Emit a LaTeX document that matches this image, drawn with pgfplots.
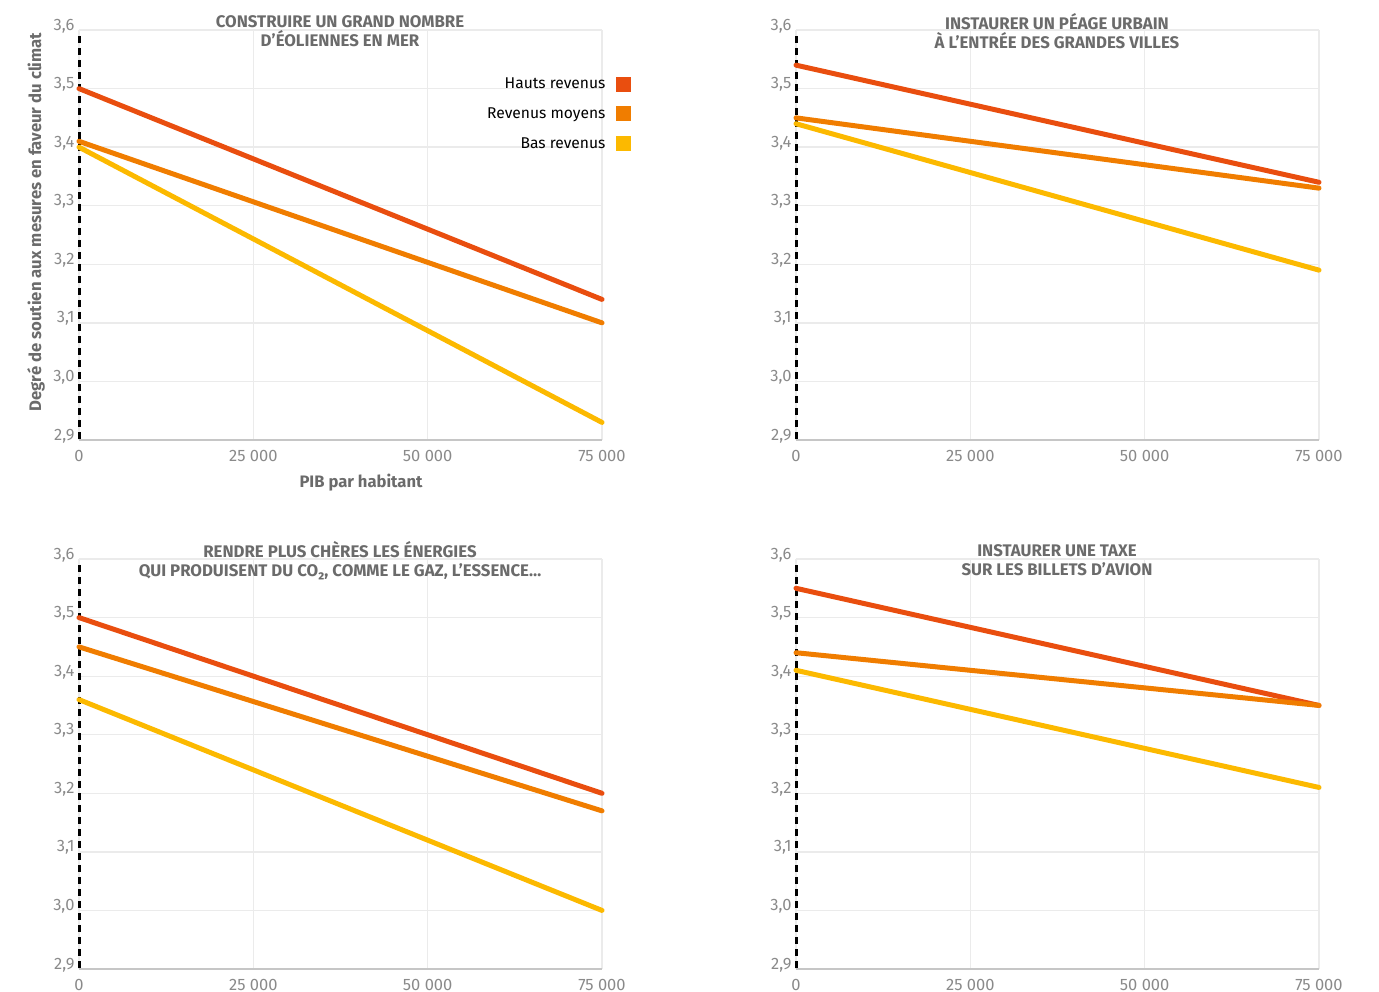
\documentclass[border=0pt]{standalone}
\usepackage{fontspec}
\setmainfont{Fira Sans}
\usepackage{pgfplots}
\pgfplotsset{compat=1.18}
\definecolor{hauts}{HTML}{E94E0F}
\definecolor{moyens}{HTML}{F07D00}
\definecolor{bas}{HTML}{FCB900}
\definecolor{titlegray}{HTML}{6B6B6B}
\definecolor{tickgray}{HTML}{8A8A8A}
\definecolor{gridgray}{HTML}{EBEBEB}
\pgfplotsset{
  panel/.style={
    scale only axis, width=523pt, height=410pt, anchor=south west,
    xmin=0, xmax=75000, ymin=2.9, ymax=3.6,
    xtick={0,25000,50000,75000},
    ytick={2.9,3.0,3.1,3.2,3.3,3.4,3.5,3.6},
    scaled x ticks=false, scaled y ticks=false,
    grid=major, major grid style={gridgray, line width=1.3pt},
    axis line style={draw=none}, major tick length=0pt,
    /pgf/number format/assume math mode=true,
    tick label style={font=\fontsize{16.5}{17}\selectfont, text=tickgray},
    xticklabel style={/pgf/number format/.cd, 1000 sep={\ }, fixed},
    yticklabel style={anchor=base east, xshift=-1pt, /pgf/number format/.cd, use comma, fixed, fixed zerofill, precision=1},
    xticklabel shift=7pt,
    clip=false,
  },
  serie/.style={line width=5pt, line cap=round, #1},
}
\newcommand{\axlines}{%
  \draw[gray!45, line width=1.3pt] (axis cs:0,2.9) -- (axis cs:75000,2.9);
  \draw[black, line width=3pt, dash pattern=on 7pt off 5pt] (axis cs:0,3.59) -- (axis cs:0,2.9);
}
\begin{document}
\begin{tikzpicture}
% Panel 1
\begin{axis}[panel, at={(79pt,-440pt)},
  legend style={at={(1.0545,0.888)}, anchor=north east, draw=none, fill=none,
    font=\fontsize{15.6}{16}\selectfont, text=black, row sep=13.5pt,
    legend cell align=right, inner sep=0pt, outer sep=0pt,
    /tikz/every even column/.append style={column sep=0pt}},
  legend plot pos=right,
  legend image code/.code={\path[draw=none, fill=none] (0pt,0pt) -- (8pt,0pt);\fill[#1, draw=none] (8pt,-7.5pt) rectangle (23pt,7.5pt);},
  ]
\axlines
\addplot[serie=hauts] coordinates {(0,3.50) (75000,3.14)};
\addlegendentry{Hauts revenus}
\addplot[serie=moyens] coordinates {(0,3.41) (75000,3.10)};
\addlegendentry{Revenus moyens}
\addplot[serie=bas] coordinates {(0,3.40) (75000,2.93)};
\addlegendentry{Bas revenus}
\end{axis}
% Panel 2
\begin{axis}[panel, at={(796pt,-440pt)}]
\axlines
\addplot[serie=hauts] coordinates {(0,3.54) (75000,3.34)};
\addplot[serie=moyens] coordinates {(0,3.45) (75000,3.33)};
\addplot[serie=bas] coordinates {(0,3.44) (75000,3.19)};
\end{axis}
% Panel 3
\begin{axis}[panel, at={(79pt,-969pt)}]
\axlines
\addplot[serie=hauts] coordinates {(0,3.50) (75000,3.20)};
\addplot[serie=moyens] coordinates {(0,3.45) (75000,3.17)};
\addplot[serie=bas] coordinates {(0,3.36) (75000,3.00)};
\end{axis}
% Panel 4
\begin{axis}[panel, at={(796pt,-969pt)}]
\axlines
\addplot[serie=hauts] coordinates {(0,3.55) (75000,3.35)};
\addplot[serie=moyens] coordinates {(0,3.44) (75000,3.35)};
\addplot[serie=bas] coordinates {(0,3.41) (75000,3.21)};
\end{axis}
% Titles and labels
\begin{scope}[x=1pt, y=-1pt, every node/.style={text=titlegray, font=\bfseries\fontsize{16.8}{19}\selectfont, align=center}]
\node at (340,31.5) {CONSTRUIRE UN GRAND NOMBRE\\D'ÉOLIENNES EN MER};
\node at (1057,31.5) {INSTAURER UN PÉAGE URBAIN\\À L'ENTRÉE DES GRANDES VILLES};
\node at (340,560.5) {RENDRE PLUS CHÈRES LES ÉNERGIES\\QUI PRODUISENT DU CO₂, COMME LE GAZ, L'ESSENCE…};
\node at (1057,560.5) {INSTAURER UNE TAXE\\SUR LES BILLETS D'AVION};
\node[rotate=90, font=\bfseries\fontsize{16.7}{19}\selectfont] at (36,222) {Degré de soutien aux mesures en faveur du climat};
\node[font=\bfseries\fontsize{16.6}{19}\selectfont] at (361,483) {PIB par habitant};
\end{scope}
\pgfresetboundingbox
\useasboundingbox (0pt,0pt) rectangle (1379pt,-991pt);
\end{tikzpicture}
\end{document}
